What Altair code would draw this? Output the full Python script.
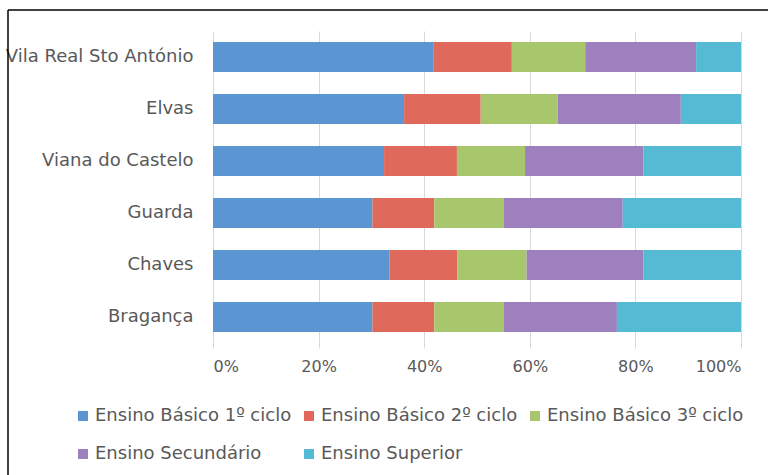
import altair as alt
import pandas as pd

cities = ["Vila Real Sto António", "Elvas", "Viana do Castelo", "Guarda", "Chaves", "Bragança"]
series = ["Ensino Básico 1º ciclo", "Ensino Básico 2º ciclo", "Ensino Básico 3º ciclo",
          "Ensino Secundário", "Ensino Superior"]
basico1 = [41.7, 36.2, 32.4, 30.2, 33.4, 30.2]
basico2 = [14.9, 14.5, 13.8, 11.7, 12.9, 11.7]
basico3 = [13.9, 14.6, 12.9, 13.2, 13.1, 13.2]
secundario = [21.0, 23.3, 22.4, 22.5, 22.1, 21.4]
superior = [8.5, 11.4, 18.5, 22.4, 18.5, 23.5]
colors = ["#5B95D2", "#DF6A5C", "#A8C76C", "#9E80BE", "#55BAD3"]

rows = []
for si, vals in enumerate([basico1, basico2, basico3, secundario, superior]):
    for c, v in zip(cities, vals):
        rows.append({"cidade": c, "nivel": series[si], "ordem": si, "valor": v})
df = pd.DataFrame(rows)

FONT = "DejaVu Sans"
GREY = "#595959"

bars = alt.Chart(df).mark_bar().encode(
    y=alt.Y("cidade:N", sort=cities, title=None,
            scale=alt.Scale(paddingInner=0.42, paddingOuter=0.21),
            axis=alt.Axis(ticks=False, domain=False, labelPadding=20, labelFontSize=18,
                          labelFont=FONT, labelColor=GREY, grid=False, labelLimit=300)),
    x=alt.X("valor:Q", stack="normalize", title=None,
            scale=alt.Scale(domain=[0, 1]),
            axis=alt.Axis(format="%", values=[0, 0.2, 0.4, 0.6, 0.8, 1.0], grid=True,
                          gridColor="#D9D9D9", gridWidth=1, domain=False,
                          ticks=True, tickSize=5, tickColor="#D9D9D9",
                          labelPadding=10, labelFontSize=16, labelFont=FONT, labelColor=GREY)),
    color=alt.Color("nivel:N", sort=series,
                    scale=alt.Scale(domain=series, range=colors),
                    legend=alt.Legend(title=None, orient="none", legendX=-139, legendY=376,
                                      columns=3, direction="horizontal",
                                      symbolType="square", symbolSize=100,
                                      symbolStrokeWidth=0, labelFontSize=18, labelFont=FONT,
                                      labelColor=GREY, columnPadding=8, rowPadding=20,
                                      labelOffset=3, padding=0, labelLimit=400)),
    order=alt.Order("ordem:Q"),
)

frame_df = pd.DataFrame({"a": [0]})
top_line = alt.Chart(frame_df).mark_rule(color="#000000", strokeWidth=1.5).encode(
    x=alt.value(-205), x2=alt.value(560), y=alt.value(-21))
left_line = alt.Chart(frame_df).mark_rule(color="#000000", strokeWidth=1.5).encode(
    x=alt.value(-205), y=alt.value(-21), y2=alt.value(444))

chart = alt.layer(bars, top_line, left_line).properties(
    width=528, height=312,
    padding={"left": 213, "top": 31, "right": 27, "bottom": 132},
    autosize=alt.AutoSizeParams(type="none"),
    background="white",
).configure_view(stroke=None)

chart.save("out.html", embed_options={"renderer": "svg", "actions": False})
